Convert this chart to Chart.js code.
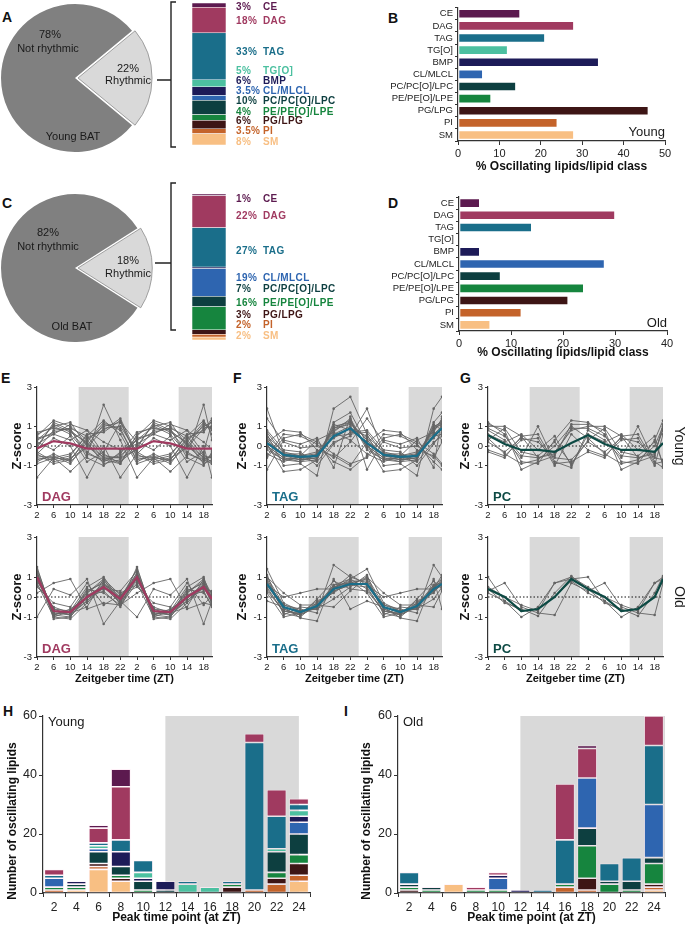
<!DOCTYPE html>
<html>
<head>
<meta charset="utf-8">
<script src="https://cdn.jsdelivr.net/npm/chart.js@4.4.1/dist/chart.umd.min.js"></script>
<style>
body{margin:0;background:#fff;width:685px;height:927px;position:relative;overflow:hidden;font-family:"Liberation Sans",Arial,sans-serif}
canvas{position:absolute}
.lt{position:absolute;font-weight:bold;font-size:14px;line-height:14px;color:#111}
</style>
</head>
<body>
<div class="lt" style="left:2px;top:10px">A</div>
<div class="lt" style="left:388px;top:11px">B</div>
<div class="lt" style="left:2px;top:196px">C</div>
<div class="lt" style="left:388px;top:196px">D</div>
<div class="lt" style="left:1px;top:371px">E</div>
<div class="lt" style="left:233px;top:371px">F</div>
<div class="lt" style="left:460px;top:371px">G</div>
<div class="lt" style="left:3px;top:704px">H</div>
<div class="lt" style="left:344px;top:704px">I</div>
<script>
// lipid classes (top to bottom as in the figure)
const lipidClasses = ["CE", "DAG", "TAG", "TG[O]", "BMP", "CL/MLCL", "PC/PC[O]/LPC", "PE/PE[O]/LPE", "PG/LPG", "PI", "SM"];
const classColors = ["#5c1a4f", "#a03a60", "#1a6e8a", "#4cc0a0", "#1d1b58", "#2e65b0", "#0d3f40", "#16853e", "#3d1515", "#c4632a", "#f8bf83"];

// pies: [rhythmic, not rhythmic]
const pieYoung = [22, 78];
const pieOld = [18, 82];

// composition of rhythmic lipids (%)
const shareYoung = [3, 18, 33, 5, 6, 3.5, 10, 4, 6, 3.5, 8];
const shareYoungText = ["3%", "18%", "33%", "5%", "6%", "3.5%", "10%", "4%", "6%", "3.5%", "8%"];
const shareOld = [1, 22, 27, 0, 1, 19, 7, 16, 3, 2, 2];
const shareOldText = ["1%", "22%", "27%", "", "", "19%", "7%", "16%", "3%", "2%", "2%"];

// % oscillating lipids per class
const oscYoung = [15, 28, 21, 12, 34, 6, 14, 8, 46, 24, 28];
const oscOld = [4, 30, 14, 0, 4, 28, 8, 24, 21, 12, 6];

// Z-score profiles, sampled at ZT 2..22, double plotted
const sampleZT = [2, 6, 10, 14, 18, 22];
const plotZT = [2, 6, 10, 14, 18, 22, 26, 30, 34, 38, 42, 44];
const plotSample = [0, 1, 2, 3, 4, 5, 0, 1, 2, 3, 4, 5];
const ztTicks = [2, 6, 10, 14, 18, 22, 26, 30, 34, 38, 42];
const ztTickLabels = ["2", "6", "10", "14", "18", "22", "2", "6", "10", "14", "18"];
const zTicks = [-3, -1, 0, 1, 3];
const darkPhases = [[12, 24], [36, 44]];

const dagYoungMean = [-0.13, 0.25, 0.13, -0.13, -0.13, -0.13];
const dagYoungTraces = [
  [0.5, 1.3, 1.0, 0.3, -0.6, -0.6], [0.3, 1.0, 1.2, 0.0, -0.7, -0.5], [0.7, 0.9, 0.8, -0.3, -0.8, -0.4],
  [-0.2, 0.8, 0.9, 0.5, -0.5, -0.6], [0.0, 1.1, 0.7, 0.2, -0.9, -0.7], [0.4, 0.6, 1.1, 0.8, -0.4, -0.9],
  [-0.5, -0.6, -0.7, 0.3, 1.0, 1.2], [-0.3, -0.8, -0.6, -0.1, 0.9, 1.0], [-0.7, -0.5, -0.9, 0.2, 1.2, 0.8],
  [-0.6, -0.7, -0.5, 0.6, 0.7, 1.3], [-1.6, -0.6, -1.3, -0.5, 2.1, 0.3], [0.2, -0.2, 0.5, -0.8, -0.3, 1.2],
  [-0.4, 0.4, 0.0, -1.6, 0.0, -1.6], [0.1, 0.6, 0.3, 0.8, 0.2, -0.2], [0.6, 1.0, 0.6, -0.4, -0.7, -0.9],
  [-0.1, 1.2, 0.8, 0.1, -0.6, -0.8], [-0.8, -0.4, -0.8, 0.0, 1.1, 0.9], [-0.4, -0.9, -0.7, 0.4, 0.8, 1.4],
  [0.3, 0.7, 0.9, -0.6, -1.0, -0.3], [-0.9, -0.6, -0.4, 0.5, 1.3, 0.6]
];
const tagYoungMean = [0.15, -0.45, -0.55, -0.5, 0.5, 0.9];
const tagYoungTraces = [
  [0.3, -0.5, -0.6, -0.5, 0.8, 1.2], [0.0, -0.6, -0.7, -0.6, 0.6, 1.0], [0.5, -0.3, -0.5, -0.3, 0.4, 0.9],
  [-0.2, -0.7, -0.8, -0.4, 0.9, 1.3], [0.2, -0.4, -0.4, -0.7, 1.1, 0.8], [1.9, -0.4, -0.6, -0.8, 0.2, 0.5],
  [0.2, 0.8, 0.7, -0.2, -0.5, -1.0], [-1.2, 0.3, 0.1, 0.4, -1.1, 1.5], [0.6, -1.0, -0.9, -1.5, 1.9, 2.5],
  [-0.5, 0.6, 0.5, 0.1, -0.8, -1.2], [0.1, -1.3, -1.2, -0.7, 1.2, 1.7], [0.8, -0.2, -0.3, -1.0, 0.1, 0.7],
  [-0.4, -0.8, -0.5, 0.3, 0.7, 0.3], [1.4, 0.2, -0.1, 0.0, -0.6, 0.2], [0.4, -0.5, -0.7, -0.6, 0.9, 1.1],
  [-0.1, -0.7, -0.6, -0.5, 0.7, 1.4], [0.7, -0.4, -0.5, -0.4, 0.5, 0.6], [0.0, -0.6, -0.8, -0.7, 1.0, 1.2],
  [-0.6, 0.4, 0.6, 0.2, -0.4, -0.9]
];
const pcYoungMean = [0.55, 0.1, -0.2, -0.2, -0.3, 0.15];
const pcYoungTraces = [
  [1.2, 0.6, -0.8, -0.9, 0.3, 1.3], [1.0, 1.0, 0.5, -0.6, -0.3, 0.8], [0.8, 0.3, -0.6, 1.0, -0.8, -1.1],
  [0.4, -0.4, -0.9, -0.7, 0.0, 1.0], [-0.3, -0.6, 0.5, 0.6, -0.9, -0.8], [0.6, 0.2, 0.6, -0.2, 0.5, -1.0],
  [1.1, 0.8, -1.2, -0.8, -0.5, 1.1], [-0.2, -0.5, 0.3, 0.4, -1.0, 0.6], [0.3, 0.9, -0.3, -0.5, 0.2, -0.9],
  [0.9, 0.5, -0.5, -0.6, -0.4, 0.9], [0.2, -0.3, 0.4, 0.2, -0.6, -0.7]
];
const dagOldMean = [1.0, -0.7, -0.75, 0.0, 0.5, -0.1];
const dagOldTraces = [
  [1.5, -1.0, -1.1, -0.3, 0.5, -0.3], [1.2, -0.8, -0.9, 0.2, 0.8, 0.0], [0.8, -0.6, -0.7, 0.5, 1.0, -0.2],
  [1.0, -0.9, -0.6, 0.0, 0.3, -0.5], [0.6, -0.5, -0.8, -0.2, 0.6, 0.2], [1.3, -1.1, -1.0, 0.1, 0.4, 0.3],
  [0.2, 0.7, 0.9, -0.6, -0.3, -0.4], [-1.0, 0.4, 0.1, 0.9, -1.35, -0.2], [0.9, -0.7, -0.8, -0.5, 0.9, 0.1],
  [1.1, -0.6, -0.9, 0.4, 0.2, -0.4], [0.5, -0.3, -0.5, 0.7, -0.4, 0.1], [1.4, -0.9, -0.7, -0.1, 0.7, -0.1],
  [1.2, -0.9, -1.0, 0.0, 0.6, -0.2], [0.9, -0.8, -0.8, 0.3, 0.7, -0.3], [1.1, -0.7, -0.9, -0.2, 0.5, 0.0],
  [0.7, -1.0, -0.7, 0.2, 0.9, -0.4]
];
const tagOldMean = [0.65, -0.5, -0.75, -0.45, 0.4, 0.65];
const tagOldTraces = [
  [1.4, -0.3, -0.7, -0.6, 0.6, 0.9], [0.9, -0.6, -0.9, -0.5, 0.5, 0.7], [0.5, -0.8, -1.0, -0.3, 0.3, 0.6],
  [0.7, -0.4, -0.6, -0.8, 1.6, 1.0], [0.2, -1.0, -0.8, -0.2, 0.2, 0.8], [1.0, 0.2, -0.4, -0.4, -0.5, 0.3],
  [-0.2, -0.5, -1.05, -1.2, 0.9, -0.6], [0.6, 0.0, 0.2, 0.4, 0.4, 1.1], [0.3, -0.7, -0.9, -0.1, 0.8, 0.4],
  [1.1, -0.9, -0.5, -0.6, -0.1, 0.5], [0.8, -0.5, -0.8, -0.5, 0.5, 0.8], [0.6, -0.6, -0.9, -0.4, 0.6, 0.7],
  [1.0, -0.4, -0.7, -0.6, 0.3, 0.6], [0.4, -0.7, -0.8, -0.3, 0.4, 0.9]
];
const pcOldMean = [0.4, 0.0, -0.7, -0.6, 0.0, 0.9];
const pcOldTraces = [
  [1.0, -0.2, -1.0, -0.5, 0.7, 0.9], [0.3, 0.7, -0.5, -0.8, -0.9, 0.7], [0.4, -0.3, -0.6, -0.95, 0.2, 1.05],
  [0.2, -0.2, -0.7, -0.6, 0.0, 0.8], [0.5, 0.0, -0.4, -0.7, 0.7, 1.0]
];

// number of oscillating lipids by peak time, one row per lipid class (same order as lipidClasses)
const peakZT = ["2", "4", "6", "8", "10", "12", "14", "16", "18", "20", "22", "24"];
const youngPeaks = [
  [0, 0, 1, 6, 0, 0, 0, 0, 0, 0, 0, 0],
  [2, 0, 5, 18, 0, 0, 0, 0, 0, 3, 9, 2],
  [1, 0, 1, 4, 4, 0, 1, 0, 1, 50, 11, 2],
  [0, 0, 1, 0, 2, 0, 3, 2, 0, 0, 1, 2],
  [0, 1, 0, 5, 1, 3, 0, 0, 0, 0, 0, 2],
  [3, 0, 1, 0, 0, 0, 0, 0, 0, 0, 0, 4],
  [0, 1, 4, 3, 3, 1, 0, 0, 0, 0, 7, 7],
  [1, 1, 0, 1, 1, 0, 0, 0, 1, 0, 2, 3],
  [0, 0, 1, 1, 0, 0, 0, 0, 2, 0, 2, 4],
  [1, 0, 1, 0, 0, 0, 0, 0, 0, 1, 3, 2],
  [0, 1, 8, 4, 0, 0, 0, 0, 0, 0, 0, 4]
];
const oldPeaks = [
  [0, 0, 0, 0, 0, 0, 0, 0, 1, 0, 0, 0],
  [0, 0, 0, 1, 1, 0, 0, 19, 10, 0, 0, 10],
  [4, 0, 0, 0, 0, 0, 1, 15, 0, 6, 8, 20],
  [0, 0, 0, 0, 0, 0, 0, 0, 0, 0, 0, 0],
  [0, 0, 0, 0, 1, 1, 0, 0, 0, 0, 0, 0],
  [0, 0, 0, 0, 4, 0, 0, 0, 17, 0, 0, 18],
  [1, 1, 0, 0, 0, 0, 0, 0, 6, 1, 3, 2],
  [1, 1, 0, 1, 1, 0, 0, 1, 11, 3, 1, 7],
  [1, 0, 0, 0, 0, 0, 0, 0, 4, 0, 0, 1],
  [0, 0, 0, 0, 0, 0, 0, 2, 1, 0, 0, 1],
  [0, 0, 3, 0, 0, 0, 0, 0, 0, 0, 0, 1]
];
const darkPeakYoung = [12, 24];
const darkPeakOld = [12, 25];

Chart.defaults.font.family = '"Liberation Sans", Arial, sans-serif';
Chart.defaults.color = "#222";
Chart.defaults.animation = false;
Chart.defaults.plugins.legend.display = false;
Chart.defaults.plugins.tooltip.enabled = false;

const AX = "#333";
const axisGrid = (len) => ({ display: true, drawOnChartArea: false, drawTicks: true, tickLength: len, color: AX, lineWidth: 1 });
const axisBorder = { display: true, color: AX, width: 1.2 };

function makeCanvas(left, top, w, h) {
  const c = document.createElement("canvas");
  c.width = w; c.height = h;
  c.style.left = left + "px"; c.style.top = top + "px";
  c.style.width = w + "px"; c.style.height = h + "px";
  document.body.appendChild(c);
  return c;
}

// free text drawn on top of a chart (canvas coords)
const notes = {
  id: "notes",
  afterDraw(chart, args, opts) {
    const ctx = chart.ctx;
    (opts.items || []).forEach((n) => {
      ctx.save();
      ctx.font = n.font || "11px 'Liberation Sans', Arial";
      ctx.fillStyle = n.color || "#1a1a1a";
      ctx.textAlign = n.align || "center";
      ctx.textBaseline = "middle";
      ctx.translate(n.x, n.y);
      if (n.rot) ctx.rotate(n.rot);
      ctx.fillText(n.text, 0, 0);
      ctx.restore();
    });
  }
};

function pie(left, top, w, h, values, pad, items) {
  const cv = makeCanvas(left, top, w, h);
  new Chart(cv, {
    type: "pie",
    data: {
      labels: ["Rhythmic", "Not rhythmic"],
      datasets: [{
        data: values,
        backgroundColor: ["#d9d9d9", "#808080"],
        borderColor: ["#8c8c8c", "#808080"],
        borderWidth: [0.8, 0],
        offset: [12, 0]
      }]
    },
    options: {
      responsive: false,
      radius: 74,
      rotation: 90 - values[0] * 1.8,
      layout: { padding: pad },
      plugins: { notes: { items } }
    },
    plugins: [notes]
  });
}

// stacked composition bar with bracket and coloured labels
const shareDeco = {
  id: "shareDeco",
  afterDraw(chart, args, o) {
    const ctx = chart.ctx;
    ctx.save();
    ctx.strokeStyle = "#222";
    ctx.lineWidth = 1.4;
    ctx.beginPath();
    ctx.moveTo(26, o.bTop); ctx.lineTo(21, o.bTop); ctx.lineTo(21, o.bBottom); ctx.lineTo(26, o.bBottom);
    ctx.moveTo(o.cx, o.cy); ctx.lineTo(21, o.cy);
    ctx.stroke();
    ctx.font = "bold 10px 'Liberation Sans', Arial";
    ctx.textBaseline = "middle";
    ctx.letterSpacing = "0.4px";
    o.texts.forEach((t, i) => {
      if (!t) return;
      ctx.fillStyle = classColors[i];
      ctx.fillText(t, 86, o.ys[i]);
      ctx.fillText(lipidClasses[i], 113, o.ys[i]);
    });
    ctx.restore();
  }
};

function shareBar(left, top, h, shares, texts, barTop, barBottom, deco) {
  const cv = makeCanvas(left, top, 190, h);
  new Chart(cv, {
    type: "bar",
    data: {
      labels: ["rhythmic"],
      datasets: shares.map((v, i) => ({
        label: lipidClasses[i],
        data: [v > 0 ? v : null],
        backgroundColor: classColors[i],
        borderColor: "rgba(255,255,255,0.7)",
        borderWidth: 0.6,
        borderSkipped: false,
        barPercentage: 1,
        categoryPercentage: 1
      }))
    },
    options: {
      responsive: false,
      layout: { padding: { left: 42, right: 114, top: barTop, bottom: h - barBottom } },
      scales: {
        x: { stacked: true, display: false },
        y: { stacked: true, display: false, min: 0, max: 100, reverse: true }
      },
      plugins: { shareDeco: Object.assign({ texts }, deco) }
    },
    plugins: [shareDeco]
  });
}

function classBars(left, top, h, values, max, o) {
  const cv = makeCanvas(left, top, 345, h);
  new Chart(cv, {
    type: "bar",
    data: {
      labels: lipidClasses,
      datasets: [{
        data: values,
        backgroundColor: classColors,
        borderColor: "rgba(255,255,255,0.6)",
        borderWidth: 0.8,
        borderSkipped: false,
        barPercentage: 0.76,
        categoryPercentage: 1
      }]
    },
    options: {
      responsive: false,
      indexAxis: "y",
      layout: { padding: { left: 0, right: o.padR, top: o.padT, bottom: 0 } },
      scales: {
        x: {
          min: 0, max, afterFit: (s) => { s.height = o.xH; },
          ticks: { stepSize: 10, font: { size: 11 }, padding: 2, maxRotation: 0 },
          grid: axisGrid(4), border: axisBorder,
          title: { display: true, text: "% Oscillating lipids/lipid class", font: { size: 12, weight: "bold" }, padding: 0, color: "#111" }
        },
        y: {
          afterFit: (s) => { s.width = o.yW; },
          ticks: { font: { size: 9.5 }, padding: 2, autoSkip: false },
          grid: axisGrid(3), border: axisBorder
        }
      },
      plugins: { notes: { items: o.notes } }
    },
    plugins: [notes]
  });
}

const doubled = (vals) => plotZT.map((x, i) => ({ x, y: vals[plotSample[i]] }));

const zDeco = {
  id: "zDeco",
  beforeDraw(chart) {
    const { ctx, chartArea: a, scales: { x } } = chart;
    ctx.save();
    ctx.fillStyle = "#d9d9d9";
    darkPhases.forEach(([s, e]) => {
      const x0 = x.getPixelForValue(s), x1 = x.getPixelForValue(e);
      ctx.fillRect(x0, a.top, x1 - x0, a.bottom - a.top);
    });
    ctx.restore();
  },
  beforeDatasetsDraw(chart) {
    const { ctx, chartArea: a, scales: { y } } = chart;
    const y0 = y.getPixelForValue(0);
    ctx.save();
    ctx.strokeStyle = "#111";
    ctx.lineWidth = 1;
    ctx.setLineDash([1.5, 2]);
    ctx.beginPath(); ctx.moveTo(a.left, y0); ctx.lineTo(a.right, y0); ctx.stroke();
    ctx.restore();
  }
};

function zPanel(o) {
  const cv = makeCanvas(o.left, o.top, o.w, o.h);
  const datasets = [{ data: doubled(o.mean), borderColor: o.color, borderWidth: 2.2, pointRadius: 0, order: 0 }];
  o.traces.forEach((t) => datasets.push({
    data: doubled(t), borderColor: "#646464", borderWidth: 0.9,
    pointRadius: 1.3, pointBackgroundColor: "#646464", pointBorderWidth: 0, order: 1
  }));
  const items = [{ text: o.name, x: o.padL + o.yW + 5, y: o.h - o.xH - 8, font: "bold 13px 'Liberation Sans', Arial", color: o.color, align: "left" }];
  if (o.side) items.push({ text: o.side, x: o.sideX, y: 9 + (o.h - o.xH - 9) / 2, font: "14px 'Liberation Sans', Arial", rot: o.sideRot });
  new Chart(cv, {
    type: "line",
    data: { datasets },
    options: {
      responsive: false,
      layout: { padding: { left: o.padL, top: 9, right: o.padR, bottom: 0 } },
      scales: {
        x: {
          type: "linear", min: 2, max: 44,
          afterBuildTicks: (s) => { s.ticks = ztTicks.map((v) => ({ value: v })); },
          afterFit: (s) => { s.height = o.xH; },
          ticks: { callback: (v) => ztTickLabels[ztTicks.indexOf(v)], font: { size: 9.5 }, padding: 2, autoSkip: false, maxRotation: 0 },
          grid: axisGrid(3), border: axisBorder,
          title: { display: !!o.xTitle, text: "Zeitgeber time (ZT)", font: { size: 11, weight: "bold" }, padding: 0, color: "#111" }
        },
        y: {
          min: -3, max: 3,
          afterBuildTicks: (s) => { s.ticks = zTicks.map((v) => ({ value: v })); },
          afterFit: (s) => { s.width = o.yW; },
          ticks: { font: { size: 9.5 }, padding: 2 },
          grid: axisGrid(3), border: axisBorder,
          title: { display: true, text: "Z-score", font: { size: 13, weight: "bold" }, padding: 0, color: "#111" }
        }
      },
      plugins: { notes: { items } }
    },
    plugins: [zDeco, notes]
  });
}

const peakDeco = {
  id: "peakDeco",
  beforeDraw(chart, args, o) {
    const { ctx, chartArea: a, scales: { x } } = chart;
    const x0 = x.getPixelForValue(o.band[0] / 2 - 1), x1 = x.getPixelForValue(o.band[1] / 2 - 1);
    ctx.save();
    ctx.fillStyle = "#d9d9d9";
    ctx.fillRect(x0, a.top, Math.min(x1, a.right) - x0, a.bottom - a.top);
    ctx.restore();
  }
};

function peakPanel(o) {
  const cv = makeCanvas(o.left, o.top, o.w, o.h);
  const order = lipidClasses.map((_, i) => i).reverse(); // SM at the bottom
  new Chart(cv, {
    type: "bar",
    data: {
      labels: peakZT,
      datasets: order.map((i) => ({
        label: lipidClasses[i],
        data: o.counts[i].map((v) => (v > 0 ? v : null)),
        backgroundColor: classColors[i],
        borderColor: "rgba(255,235,245,0.8)",
        borderWidth: 0.8,
        borderSkipped: false,
        barPercentage: 0.88,
        categoryPercentage: 1
      }))
    },
    options: {
      responsive: false,
      layout: { padding: { left: o.padL, top: 16, right: o.padR, bottom: 0 } },
      scales: {
        x: {
          stacked: true,
          afterFit: (s) => { s.height = 32; },
          ticks: { font: { size: 12 }, padding: 3, maxRotation: 0, autoSkip: false },
          grid: axisGrid(4), border: axisBorder,
          title: { display: true, text: "Peak time point (at ZT)", font: { size: 12, weight: "bold" }, padding: 0, color: "#111" }
        },
        y: {
          stacked: true, min: 0, max: 60,
          afterFit: (s) => { s.width = o.yW; },
          ticks: { stepSize: 20, font: { size: 12.5 }, padding: 2 },
          grid: axisGrid(4), border: axisBorder
        }
      },
      plugins: {
        peakDeco: { band: o.band },
        notes: {
          items: [
            { text: o.tag, x: o.padL + o.yW + 5, y: 22, font: "13px 'Liberation Sans', Arial", align: "left" },
            { text: "Number of oscillating lipids", x: o.titleX, y: 121, font: "bold 12px 'Liberation Sans', Arial", rot: -Math.PI / 2, color: "#111" }
          ]
        }
      }
    },
    plugins: [peakDeco, notes]
  });
}

// A / C pies
pie(0, 0, 175, 160, pieYoung, { left: 0, top: 3, right: 25, bottom: 7 }, [
  { text: "78%", x: 50, y: 35 }, { text: "Not rhythmic", x: 48, y: 49 },
  { text: "22%", x: 128, y: 69 }, { text: "Rhythmic", x: 128, y: 81 },
  { text: "Young BAT", x: 73, y: 137 }
]);
pie(0, 180, 175, 172, pieOld, { left: 0, top: 13, right: 25, bottom: 9 }, [
  { text: "82%", x: 48, y: 53 }, { text: "Not rhythmic", x: 48, y: 67 },
  { text: "18%", x: 128, y: 81 }, { text: "Rhythmic", x: 128, y: 94 },
  { text: "Old BAT", x: 72, y: 147 }
]);

shareBar(150, 0, 158, shareYoung, shareYoungText, 3, 145,
  { bTop: 2, bBottom: 147, cx: 7, cy: 80, ys: [7, 21, 52, 71, 81, 91, 101, 112, 121, 131, 142] });
shareBar(150, 180, 165, shareOld, shareOldText, 14, 160,
  { bTop: 3, bBottom: 150, cx: 5, cy: 83, ys: [19, 36, 71, 0, 0, 98, 109, 123, 135, 145, 156] });

// B / D
classBars(340, 0, 174, oscYoung, 50, {
  padR: 20, padT: 5, xH: 33, yW: 118,
  notes: [{ text: "Young", x: 325, y: 132, font: "13px 'Liberation Sans', Arial", align: "right" }]
});
classBars(340, 182, 178, oscOld, 40, {
  padR: 18, padT: 15, xH: 29, yW: 119,
  notes: [{ text: "Old", x: 327, y: 141, font: "13px 'Liberation Sans', Arial", align: "right" }]
});

// E / F / G
zPanel({ left: 0, top: 378, w: 225, h: 147, padL: 9.2, yW: 27.8, padR: 13, xH: 20, mean: dagYoungMean, traces: dagYoungTraces, color: "#a03a60", name: "DAG" });
zPanel({ left: 225, top: 378, w: 225, h: 147, padL: 9.2, yW: 32.8, padR: 8, xH: 20, mean: tagYoungMean, traces: tagYoungTraces, color: "#1a6e8a", name: "TAG" });
zPanel({ left: 455, top: 378, w: 230, h: 147, padL: 2.2, yW: 30.8, padR: 22, xH: 20, mean: pcYoungMean, traces: pcYoungTraces, color: "#0d4a44", name: "PC", side: "Young", sideX: 224, sideRot: Math.PI / 2 });
zPanel({ left: 0, top: 528, w: 225, h: 158, padL: 9.2, yW: 27.8, padR: 13, xH: 29, xTitle: true, mean: dagOldMean, traces: dagOldTraces, color: "#a03a60", name: "DAG" });
zPanel({ left: 225, top: 528, w: 225, h: 158, padL: 9.2, yW: 32.8, padR: 8, xH: 29, xTitle: true, mean: tagOldMean, traces: tagOldTraces, color: "#1a6e8a", name: "TAG" });
zPanel({ left: 455, top: 528, w: 230, h: 158, padL: 2.2, yW: 30.8, padR: 22, xH: 29, xTitle: true, mean: pcOldMean, traces: pcOldTraces, color: "#0d4a44", name: "PC", side: "Old", sideX: 224, sideRot: Math.PI / 2 });

// H / I
peakPanel({ left: 0, top: 700, w: 330, h: 225, padL: 0, yW: 43, padR: 20, titleX: 13, counts: youngPeaks, band: darkPeakYoung, tag: "Young" });
peakPanel({ left: 340, top: 700, w: 345, h: 225, padL: 0, yW: 58, padR: 20, titleX: 27, counts: oldPeaks, band: darkPeakOld, tag: "Old" });
</script>
</body>
</html>
